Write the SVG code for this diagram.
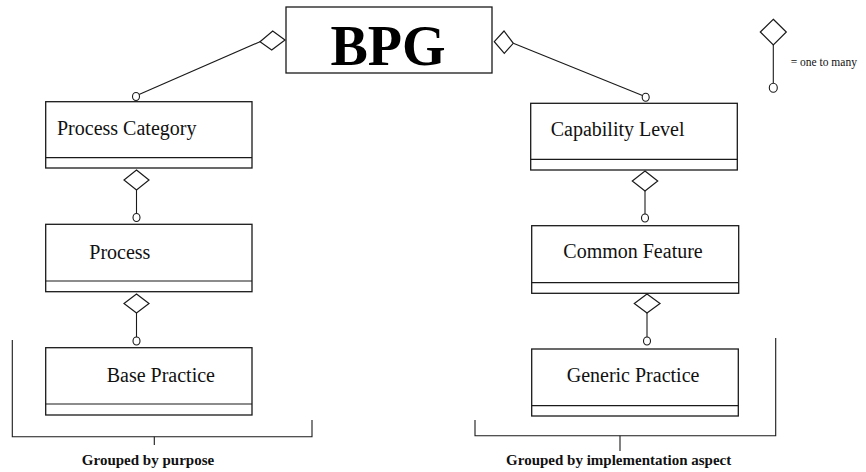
<svg xmlns="http://www.w3.org/2000/svg" width="866" height="472" viewBox="0 0 866 472">
  <style>
    .box { fill: #fff; stroke: #1a1a1a; stroke-width: 1.3; }
    .div { stroke: #1a1a1a; stroke-width: 1.2; }
    .lbl { font-family: "Liberation Serif", "Times New Roman", serif; font-size: 20px; fill: #111; }
    .title { font-family: "Liberation Serif", "Times New Roman", serif; font-size: 56px; font-weight: bold; fill: #000; }
    .grp { font-family: "Liberation Serif", "Times New Roman", serif; font-size: 15px; font-weight: bold; fill: #111; }
    .note { font-family: "Liberation Serif", "Times New Roman", serif; font-size: 11.5px; fill: #111; }
    .ln { stroke: #1a1a1a; stroke-width: 1.1; fill: none; }
    .dia { fill: #fff; stroke: #1a1a1a; stroke-width: 1.2; }
    .end { fill: #fff; stroke: #1a1a1a; stroke-width: 1.1; }
  </style>

  <rect width="866" height="472" fill="#fff"/>

  <!-- aggregation connectors -->
  <g id="connectors">
    <!-- BPG to Process Category -->
    <line class="ln" x1="260" y1="41.7" x2="139" y2="94.5"/>
    <polygon class="dia" points="285,40 272.7,31 260,41.7 271.7,50"/>
    <ellipse class="end" cx="136" cy="96.5" rx="3.5" ry="4"/>

    <!-- BPG to Capability Level -->
    <line class="ln" x1="513.3" y1="43.3" x2="642.5" y2="95.5"/>
    <polygon class="dia" points="494.3,41.7 504,31 513.3,43.3 504.3,53.3"/>
    <ellipse class="end" cx="645.7" cy="97.3" rx="3.5" ry="4"/>

    <!-- Process Category to Process -->
    <line class="ln" x1="136.5" y1="190" x2="136.5" y2="213.5"/>
    <polygon class="dia" points="136.5,170 149,180 136.5,190 124,180"/>
    <ellipse class="end" cx="136.5" cy="217.5" rx="3.5" ry="4"/>

    <!-- Process to Base Practice -->
    <line class="ln" x1="136.5" y1="313" x2="136.5" y2="337"/>
    <polygon class="dia" points="136.5,294 149,303.5 136.5,313 124,303.5"/>
    <ellipse class="end" cx="136.5" cy="341" rx="3.5" ry="4"/>

    <!-- Capability Level to Common Feature -->
    <line class="ln" x1="645" y1="191" x2="645" y2="214"/>
    <polygon class="dia" points="645,171 657.7,181 645,191 632.3,181"/>
    <ellipse class="end" cx="645" cy="218" rx="3.5" ry="4"/>

    <!-- Common Feature to Generic Practice -->
    <line class="ln" x1="647" y1="313" x2="647" y2="337"/>
    <polygon class="dia" points="647,294 660,303.5 647,313 634.3,303.5"/>
    <ellipse class="end" cx="647" cy="341" rx="3.5" ry="4"/>
  </g>

  <!-- root node -->
  <g id="bpg">
    <rect class="box" x="286" y="7" width="206" height="66"/>
    <text class="title" x="388" y="65" text-anchor="middle">BPG</text>
  </g>

  <!-- purpose hierarchy -->
  <g id="process-category">
    <rect class="box" x="45.7" y="101.7" width="206.3" height="66.3"/>
    <line class="div" x1="45.7" y1="157.7" x2="252" y2="157.7"/>
    <text class="lbl" x="57" y="135">Process Category</text>
  </g>
  <g id="process">
    <rect class="box" x="45.7" y="224.3" width="206.3" height="67.4"/>
    <line class="div" x1="45.7" y1="281" x2="252" y2="281"/>
    <text class="lbl" x="89.3" y="259">Process</text>
  </g>
  <g id="base-practice">
    <rect class="box" x="45.7" y="347.7" width="206.3" height="67.3"/>
    <line class="div" x1="45.7" y1="404" x2="252" y2="404"/>
    <text class="lbl" x="106.7" y="381.7">Base Practice</text>
  </g>

  <!-- implementation hierarchy -->
  <g id="capability-level">
    <rect class="box" x="530.7" y="103.3" width="206.6" height="66.7"/>
    <line class="div" x1="530.7" y1="159.3" x2="737.3" y2="159.3"/>
    <text class="lbl" x="550.7" y="136">Capability Level</text>
  </g>
  <g id="common-feature">
    <rect class="box" x="531.7" y="225.7" width="207" height="67.6"/>
    <line class="div" x1="531.7" y1="282.7" x2="738.7" y2="282.7"/>
    <text class="lbl" x="563.3" y="258.3">Common Feature</text>
  </g>
  <g id="generic-practice">
    <rect class="box" x="531.7" y="349" width="206.6" height="67"/>
    <line class="div" x1="531.7" y1="405.7" x2="738.3" y2="405.7"/>
    <text class="lbl" x="566.7" y="382">Generic Practice</text>
  </g>

  <!-- grouping brackets -->
  <g id="group-purpose">
    <polyline class="ln" points="12.3,340 12.3,436.7 312,436.7 312,420"/>
    <line class="ln" x1="154.3" y1="436.7" x2="154.3" y2="445"/>
    <text class="grp" x="148" y="465" text-anchor="middle">Grouped by purpose</text>
  </g>
  <g id="group-implementation">
    <polyline class="ln" points="475,420 475,435.7 775.7,435.7 775.7,338"/>
    <line class="ln" x1="620" y1="435.7" x2="620" y2="451"/>
    <text class="grp" x="618.7" y="465" text-anchor="middle">Grouped by implementation aspect</text>
  </g>

  <!-- legend -->
  <g id="legend">
    <line class="ln" x1="773.3" y1="45" x2="773.3" y2="83.2"/>
    <polygon class="dia" points="773.3,19.3 786.3,32 773.3,45 760.3,32"/>
    <ellipse class="end" cx="773.3" cy="87.7" rx="4" ry="4.5"/>
    <text class="note" x="790.7" y="65.7">= one to many</text>
  </g>
</svg>
